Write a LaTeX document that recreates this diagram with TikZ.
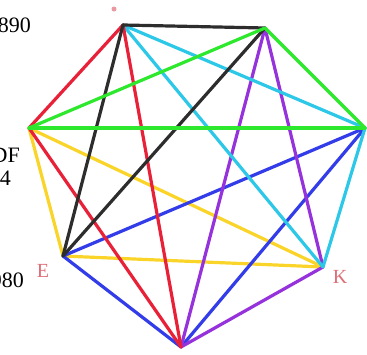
\documentclass[tikz,border=0pt]{standalone}
\usepackage{fontspec}
\setmainfont{Liberation Serif}
\usepackage{xcolor}
\definecolor{kblack}{RGB}{45,45,45}
\definecolor{kred}{RGB}{232,32,56}
\definecolor{kcyan}{RGB}{45,200,232}
\definecolor{kgreen}{RGB}{45,232,45}
\definecolor{kpurple}{RGB}{150,50,220}
\definecolor{kblue}{RGB}{50,60,232}
\definecolor{kyellow}{RGB}{250,212,40}
\definecolor{klabel}{RGB}{222,110,120}

\begin{document}
\begin{tikzpicture}[
  x=1pt, y=-1pt,
  edge/.style={line width=3.2pt, line cap=round},
  blackedge/.style={edge, draw=kblack},
  rededge/.style={edge, draw=kred},
  cyanedge/.style={edge, draw=kcyan},
  greenedge/.style={edge, draw=kgreen},
  purpleedge/.style={edge, draw=kpurple},
  blueedge/.style={edge, draw=kblue},
  yellowedge/.style={edge, draw=kyellow},
  cut/.style={font=\fontsize{22}{25}\selectfont, inner sep=0pt, anchor=east},
  vlabel/.style={font=\fontsize{20}{22}\selectfont, text=klabel, inner sep=0pt}
]
\useasboundingbox (0,0) rectangle (367,354);
\clip (0,0) rectangle (367,354);

% vertices
\coordinate (A) at (123,25);
\coordinate (B) at (265,28);
\coordinate (C) at (365,128);
\coordinate (D) at (29,128);
\coordinate (E) at (63,256);
\coordinate (F) at (181,347);
\coordinate (K) at (323,267);

% one triangle per colour
\draw[yellowedge] (D) -- (E);
\draw[yellowedge] (D) -- (K);
\draw[yellowedge] (E) -- (K);
\draw[blueedge] (C) -- (E);
\draw[blueedge] (C) -- (F);
\draw[blueedge] (E) -- (F);
\draw[purpleedge] (B) -- (F);
\draw[purpleedge] (B) -- (K);
\draw[purpleedge] (F) -- (K);
\draw[cyanedge] (A) -- (C);
\draw[cyanedge] (A) -- (K);
\draw[cyanedge] (C) -- (K);
\draw[rededge] (A) -- (D);
\draw[rededge] (A) -- (F);
\draw[rededge] (D) -- (F);
\draw[blackedge] (A) -- (B);
\draw[blackedge] (A) -- (E);
\draw[blackedge] (B) -- (E);
\draw[greenedge] (B) -- (D);
\draw[greenedge] (B) -- (C);
\draw[greenedge] (C) -- (D);

% vertex labels
\node[vlabel] (labE) at (43,271) {E};
\node[vlabel] (labK) at (340,277) {K};
\fill[klabel!70] (114,9) circle (2.5pt);

% cut-off texts at the left edge
\node[cut] (t890) at (31,25) {890};
\node[cut] (tDF) at (20,155) {DF};
\node[cut] (t4) at (11,178) {4};
\node[cut] (t980) at (24,280) {980};
\end{tikzpicture}
\end{document}
